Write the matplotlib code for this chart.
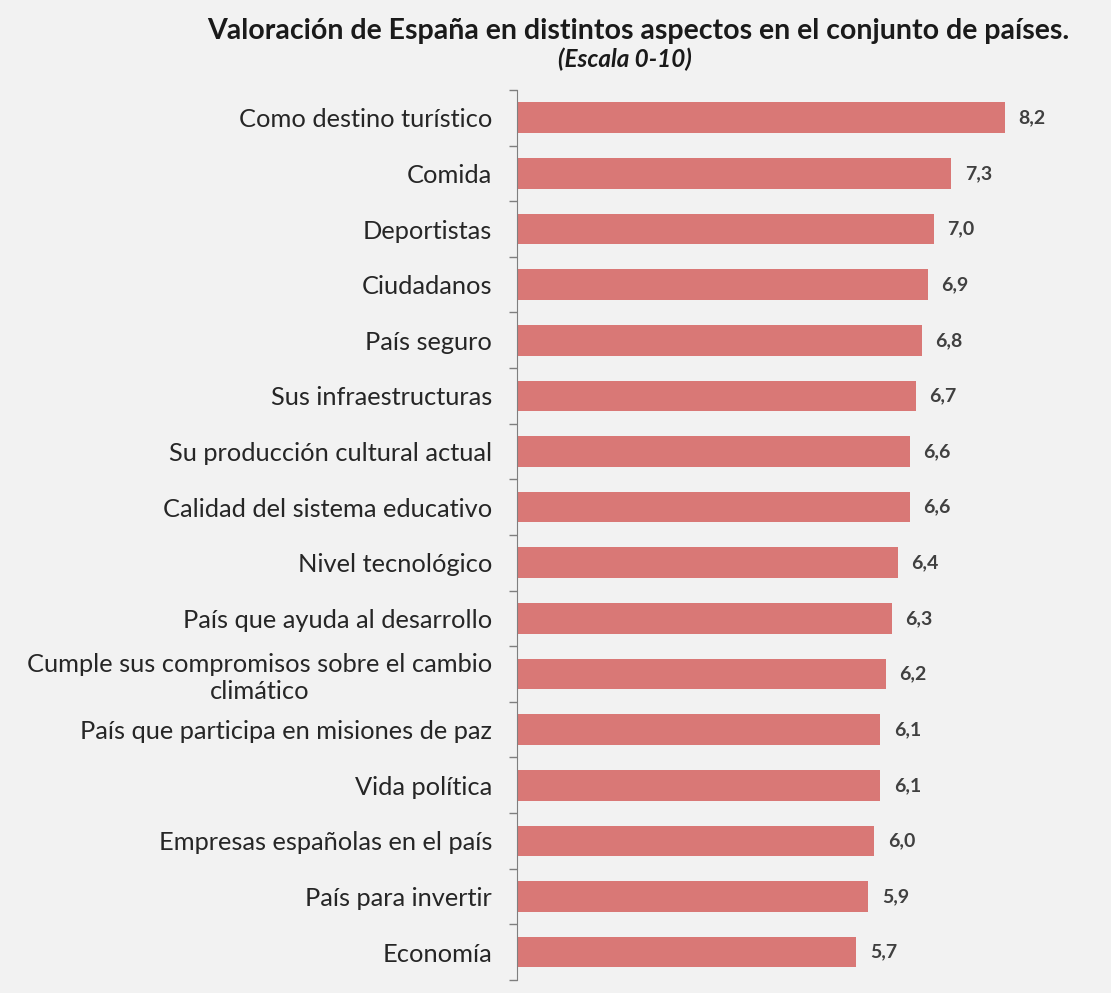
import matplotlib.pyplot as plt

categories = [
    "Como destino turístico",
    "Comida",
    "Deportistas",
    "Ciudadanos",
    "País seguro",
    "Sus infraestructuras",
    "Su producción cultural actual",
    "Calidad del sistema educativo",
    "Nivel tecnológico",
    "País que ayuda al desarrollo",
    "Cumple sus compromisos sobre el cambio\nclimático",
    "País que participa en misiones de paz",
    "Vida política",
    "Empresas españolas en el país",
    "País para invertir",
    "Economía",
]
values = [8.2, 7.3, 7.0, 6.9, 6.8, 6.7, 6.6, 6.6, 6.4, 6.3, 6.2, 6.1, 6.1, 6.0, 5.9, 5.7]

BG = "#f2f2f2"
BAR = "#d97876"
TEXT = "#262626"

plt.rcParams["font.family"] = ["Lato", "DejaVu Sans"]

fig = plt.figure(figsize=(11.11, 9.93), dpi=100, facecolor=BG)
ax = fig.add_axes([517 / 1111, 0.0131, 592 / 1111, 0.8963], facecolor=BG)

n = len(categories)
pos = list(range(n - 1, -1, -1))
ax.barh(pos, values, height=0.55, color=BAR, edgecolor="none")

for y, v in zip(pos, values):
    ax.text(v + 0.23, y, f"{v:.1f}".replace(".", ","), ha="left", va="center",
            fontsize=14, fontweight="bold", color="#404040")

ax.set_xlim(0, 592 / 59.5)
ax.set_ylim(-0.5, n - 0.5)
ax.set_xticks([])
ax.set_yticks(pos)
ax.set_yticklabels(categories, fontsize=18.3, color=TEXT, ha="right", multialignment="center")
ax.tick_params(axis="y", length=0, pad=18)
# small ticks between categories on the axis line
ax.set_yticks([p - 0.5 for p in range(n + 1)], minor=True)
ax.tick_params(axis="y", which="minor", length=6, color="#7f7f7f", width=1)
for key in ["top", "right", "bottom"]:
    ax.spines[key].set_visible(False)
ax.spines["left"].set_color("#7f7f7f")

fig.text(638 / 1111, 1 - 31 / 993, "Valoración de España en distintos aspectos en el conjunto de países.",
         ha="center", va="center", fontsize=20.5, fontweight="bold", color="#1a1a1a")
fig.text(625 / 1111, 1 - 59 / 993, "(Escala 0-10)", ha="center", va="center", fontsize=17.5,
         fontweight="bold", style="italic", color="#1a1a1a")

fig.savefig("out.png", dpi=100, facecolor=BG)
